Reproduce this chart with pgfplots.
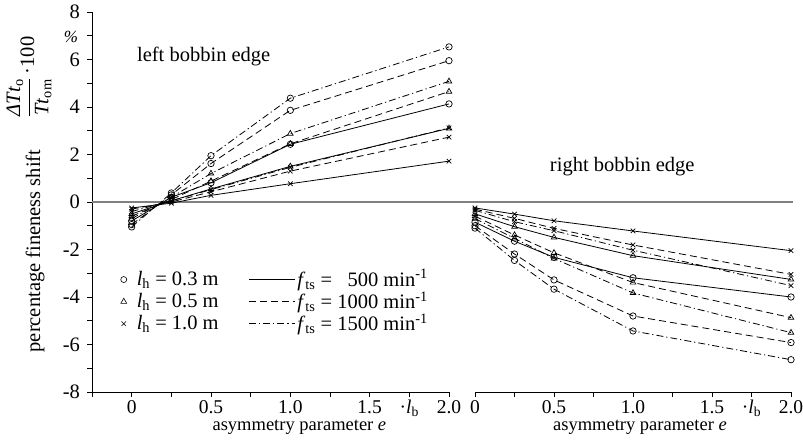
\documentclass[border=0pt]{standalone}
\usepackage{pgfplots}
\pgfplotsset{compat=1.18}
\usepackage{pgfplotstable}
\usepackage{fontspec}
\setmainfont{Liberation Serif}

% fineness shift in %, columns: marker (c = 0.3 m, t = 0.5 m, x = 1.0 m) and speed (500, 1000, 1500 1/min)
\pgfplotstableread{
e     c5     c10    c15    t5     t10    t15    x5     x10    x15
0     -0.80  -0.95  -1.05  -0.50  -0.60  -0.70  -0.25  -0.30  -0.40
0.25   0.20   0.30   0.38   0.05   0.10   0.20  -0.05   0.00   0.05
0.5    0.81   1.62   1.95   0.55   0.88   1.20   0.28   0.43   0.52
1.0    2.43   3.86   4.37   1.50   2.45   2.88   0.77   1.30   1.46
2.0    4.13   5.95   6.53   3.10   4.65   5.08   1.72   2.73   3.12
}\lefttab

\pgfplotstableread{
e     c5     c10    c15    t5     t10    t15    x5     x10    x15
0     -0.85  -1.00  -1.10  -0.50  -0.60  -0.70  -0.25  -0.30  -0.35
0.25  -1.65  -2.19  -2.46  -1.04  -1.39  -1.53  -0.51  -0.69  -0.83
0.5   -2.33  -3.28  -3.67  -1.49  -2.14  -2.38  -0.79  -1.11  -1.21
1.0   -3.19  -4.80  -5.43  -2.26  -3.39  -3.83  -1.22  -1.81  -2.03
2.0   -4.00  -5.92  -6.64  -3.26  -4.87  -5.50  -2.05  -3.05  -3.52
}\righttab

\tikzset{
  s5/.style={black, line width=0.8pt, solid},
  s10/.style={black, line width=0.8pt, dash pattern=on 7pt off 4pt},
  s15/.style={black, line width=0.8pt, dash pattern=on 7pt off 3pt on 1.2pt off 3pt},
}

\pgfplotsset{
  panel/.style={
    scale only axis, height=380pt,
    ymin=-8, ymax=8,
    axis line style={line width=0.9pt},
    tick style={black, line width=0.8pt},
    tick align=outside, major tick length=5pt,
    xticklabel style={inner sep=0pt, anchor=base, yshift=-16.5pt, font=\fontsize{19.5}{22}\selectfont},
    clip=false,
    every axis plot/.append style={mark size=3.2pt, mark options={solid, line width=0.7pt}},
  },
}

\newcommand{\lb}{·\textit{l}\textsubscript{b}}
\newcommand{\xlab}{{\fontsize{18.5}{21}\selectfont asymmetry parameter \textit{e}}}

\begin{document}
\fontsize{20.5}{24}\selectfont
\begin{tikzpicture}
\useasboundingbox (0,0) rectangle (803pt,439pt);

% left bobbin edge
\begin{axis}[panel,
  at={(92pt,47pt)}, anchor=south west, width=357pt,
  xmin=-0.25, xmax=2,
  axis x line*=bottom, axis y line*=left,
  xtick={-0.25,0,0.25,0.5,0.75,1,1.25,1.5,1.75,2},
  xticklabels={,0,,0.5,,1.0,,1.5,\lb,2.0},
  ytick={-8,-7,...,8},
  yticklabels={-8,,-6,,-4,,-2,,0,,2,,4,,6,,8},
  legend columns=2,
  legend style={draw=none, fill=none, at={(axis cs:-0.07,-2.75)}, anchor=north west,
    inner sep=0pt, row sep=-2pt, cells={anchor=west},
    /tikz/column 1/.style={column sep=8pt},
    /tikz/column 2/.style={column sep=28pt}},
]
\draw[gray, line width=1.4pt] (axis cs:-0.25,0) -- (axis cs:4.17,0);

\addlegendimage{only marks, mark=o, mark size=3pt, mark options={line width=0.6pt}}
\addlegendentry{\textit{l}\textsubscript{h} = 0.3 m}
\addlegendimage{legend image code/.code={\draw[s5] (0pt,0pt) -- (46pt,0pt);}}
\addlegendentry{\textit{f}\textsubscript{ts} = \phantom{1}500 min\textsuperscript{-1}}
\addlegendimage{only marks, mark=triangle, mark size=3.4pt, mark options={line width=0.6pt}}
\addlegendentry{\textit{l}\textsubscript{h} = 0.5 m}
\addlegendimage{legend image code/.code={\draw[s10] (0pt,0pt) -- (46pt,0pt);}}
\addlegendentry{\textit{f}\textsubscript{ts} = 1000 min\textsuperscript{-1}}
\addlegendimage{only marks, mark=x, mark size=3.2pt, mark options={line width=0.6pt}}
\addlegendentry{\textit{l}\textsubscript{h} = 1.0 m}
\addlegendimage{legend image code/.code={\draw[s15] (0pt,0pt) -- (46pt,0pt);}}
\addlegendentry{\textit{f}\textsubscript{ts} = 1500 min\textsuperscript{-1}}

\addplot[s5,  mark=o, forget plot] table[x=e, y=c5]  {\lefttab};
\addplot[s10, mark=o, forget plot] table[x=e, y=c10] {\lefttab};
\addplot[s15, mark=o, forget plot] table[x=e, y=c15] {\lefttab};
\addplot[s5,  mark=triangle, forget plot] table[x=e, y=t5]  {\lefttab};
\addplot[s10, mark=triangle, forget plot] table[x=e, y=t10] {\lefttab};
\addplot[s15, mark=triangle, forget plot] table[x=e, y=t15] {\lefttab};
\addplot[s5,  mark=x, forget plot] table[x=e, y=x5]  {\lefttab};
\addplot[s10, mark=x, forget plot] table[x=e, y=x10] {\lefttab};
\addplot[s15, mark=x, forget plot] table[x=e, y=x15] {\lefttab};

\node[anchor=base west] at (axis cs:-0.01,5.9) {left bobbin edge};
\node[anchor=base, inner sep=0pt] at (axis cs:1.057,-8) [yshift=-38.5pt] {\xlab};
\end{axis}

% right bobbin edge
\begin{axis}[panel,
  at={(475pt,47pt)}, anchor=south west, width=316pt,
  xmin=0, xmax=2,
  axis x line*=bottom, hide y axis,
  xtick={0,0.25,0.5,0.75,1,1.25,1.5,1.75,2},
  xticklabels={0,,0.5,,1.0,,1.5,\lb,2.0},
]
\addplot[s5,  mark=o] table[x=e, y=c5]  {\righttab};
\addplot[s10, mark=o] table[x=e, y=c10] {\righttab};
\addplot[s15, mark=o] table[x=e, y=c15] {\righttab};
\addplot[s5,  mark=triangle] table[x=e, y=t5]  {\righttab};
\addplot[s10, mark=triangle] table[x=e, y=t10] {\righttab};
\addplot[s15, mark=triangle] table[x=e, y=t15] {\righttab};
\addplot[s5,  mark=x] table[x=e, y=x5]  {\righttab};
\addplot[s10, mark=x] table[x=e, y=x10] {\righttab};
\addplot[s15, mark=x] table[x=e, y=x15] {\righttab};

\node[anchor=base west] at (axis cs:0.43,1.3) {right bobbin edge};
\node[anchor=base, inner sep=0pt] at (axis cs:1.044,-8) [yshift=-38.5pt] {\xlab};
\end{axis}

% axis annotations
\node[rotate=90] at (35pt,188pt) {percentage fineness shift};
\node[rotate=90] at (29pt,362pt) {$\displaystyle\frac{\mbox{\textit{ΔTt}\textsubscript{o}}}{\mbox{\textit{Tt}\textsubscript{om}}}$\,·100};
\node at (71pt,402pt) {\fontsize{17}{19}\selectfont\textit{\%}};
\end{tikzpicture}
\end{document}
